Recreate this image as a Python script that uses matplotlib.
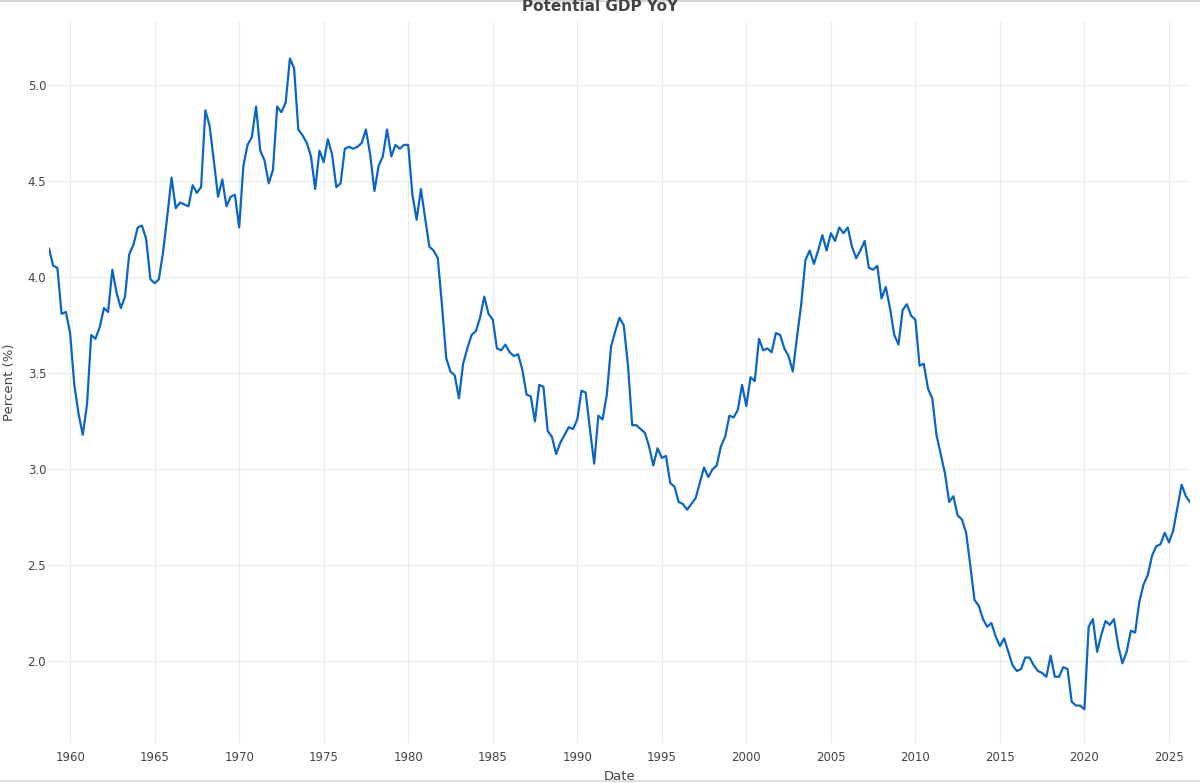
import pandas as pd
import matplotlib
matplotlib.use("Agg")
import matplotlib.pyplot as plt
from matplotlib.lines import Line2D

# Potential GDP YoY (%), quarterly
start_quarter = '1958-10-01'
yoy_1958_1967 = [4.15, 4.06, 4.05, 3.81, 3.82, 3.71, 3.44, 3.29, 3.18, 3.34,
                 3.70, 3.68, 3.74, 3.84, 3.82, 4.04, 3.92, 3.84, 3.90, 4.12,
                 4.17, 4.26, 4.27, 4.20, 3.99, 3.97, 3.99, 4.13, 4.32, 4.52,
                 4.36, 4.39, 4.38, 4.37, 4.48, 4.44, 4.47]
yoy_1968_1979 = [4.87, 4.79, 4.61, 4.42, 4.51, 4.37, 4.42, 4.43,
                 4.26, 4.58, 4.69, 4.73, 4.89, 4.66, 4.61, 4.49,
                 4.56, 4.89, 4.86, 4.91, 5.14, 5.09, 4.77, 4.74,
                 4.70, 4.63, 4.46, 4.66, 4.60, 4.72, 4.64, 4.47,
                 4.49, 4.67, 4.68, 4.67, 4.68, 4.70, 4.77, 4.64,
                 4.45, 4.58, 4.63, 4.77, 4.63, 4.69, 4.67, 4.69]
yoy_1980_1991 = [4.69, 4.43, 4.30, 4.46, 4.31, 4.16, 4.14, 4.10,
                 3.85, 3.58, 3.51, 3.49, 3.37, 3.55, 3.63, 3.70,
                 3.72, 3.79, 3.90, 3.81, 3.78, 3.63, 3.62, 3.65,
                 3.61, 3.59, 3.60, 3.52, 3.39, 3.38, 3.25, 3.44,
                 3.43, 3.20, 3.17, 3.08, 3.14, 3.18, 3.22, 3.21,
                 3.26, 3.41, 3.40, 3.21, 3.03, 3.28, 3.26, 3.39]
yoy_1992_2003 = [3.64, 3.72, 3.79, 3.75, 3.54, 3.23, 3.23, 3.21,
                 3.19, 3.12, 3.02, 3.11, 3.06, 3.07, 2.93, 2.91,
                 2.83, 2.82, 2.79, 2.82, 2.85, 2.93, 3.01, 2.96,
                 3.00, 3.02, 3.12, 3.17, 3.28, 3.27, 3.31, 3.44,
                 3.33, 3.48, 3.46, 3.68, 3.62, 3.63, 3.61, 3.71,
                 3.70, 3.63, 3.59, 3.51, 3.69, 3.86, 4.09, 4.14]
yoy_2004_2015 = [4.07, 4.14, 4.22, 4.14, 4.23, 4.19, 4.26, 4.23,
                 4.26, 4.16, 4.10, 4.14, 4.19, 4.05, 4.04, 4.06,
                 3.89, 3.95, 3.84, 3.70, 3.65, 3.83, 3.86, 3.80,
                 3.78, 3.54, 3.55, 3.42, 3.37, 3.18, 3.08, 2.98,
                 2.83, 2.86, 2.76, 2.74, 2.67, 2.50, 2.32, 2.29,
                 2.22, 2.18, 2.20, 2.13, 2.08, 2.12, 2.05, 1.98]
yoy_2016_2026 = [1.95, 1.96, 2.02, 2.02, 1.98, 1.95, 1.94, 1.92,
                 2.03, 1.92, 1.92, 1.97, 1.96, 1.79, 1.77, 1.77,
                 1.75, 2.18, 2.22, 2.05, 2.14, 2.21, 2.19, 2.22,
                 2.08, 1.99, 2.05, 2.16, 2.15, 2.31, 2.40, 2.45,
                 2.55, 2.60, 2.61, 2.67, 2.62, 2.68, 2.80, 2.92,
                 2.86, 2.83]

values = (yoy_1958_1967 + yoy_1968_1979 + yoy_1980_1991 +
          yoy_1992_2003 + yoy_2004_2015 + yoy_2016_2026)
dates = pd.date_range(start_quarter, periods=len(values), freq='QS')
df = pd.DataFrame({'Date': dates, 'YoY': values})

tick_years = list(range(1960, 2030, 5))
y_ticks = [2.0, 2.5, 3.0, 3.5, 4.0, 4.5, 5.0]

text_color = '#444444'
grid_color = '#ebebeb'

fig = plt.figure(figsize=(12, 7.83), dpi=100)
ax = fig.add_axes([0.0408, 0.0511, 0.9509, 0.9208])

ax.plot(df['Date'], df['YoY'], color='#0a66c2', linewidth=1.6)

ax.set_xlim(df['Date'].iloc[0], df['Date'].iloc[-1])
ax.set_ylim(1.575, 5.33)

ax.set_xticks(pd.to_datetime([f'{y}-01-01' for y in tick_years]))
ax.set_xticklabels([str(y) for y in tick_years])
ax.set_yticks(y_ticks)
ax.set_yticklabels([f'{v:.1f}' for v in y_ticks])

ax.grid(True, color=grid_color, linewidth=0.8)
ax.set_axisbelow(True)
for side in ax.spines.values():
    side.set_visible(False)
ax.tick_params(length=0, labelsize=8.5, colors=text_color)
ax.tick_params(axis='x', pad=6)
ax.tick_params(axis='y', pad=2)

ax.set_xlabel('Date', fontsize=9.5, color=text_color, labelpad=4)
ax.set_ylabel('Percent (%)', fontsize=9.5, color=text_color, labelpad=8)

fig.text(0.5, 0.9915, 'Potential GDP YoY', ha='center', va='center',
         fontsize=11, fontweight='bold', color=text_color)

# thin grey frame lines at the top and bottom of the screenshot
fig.add_artist(Line2D([0, 1], [0.999, 0.999], color='#d6d6d6', linewidth=1.5,
                      transform=fig.transFigure))
fig.add_artist(Line2D([0, 1], [0.0025, 0.0025], color='#e0e0e0', linewidth=1.5,
                      transform=fig.transFigure))

plt.savefig('out.png', dpi=100)
plt.close()
